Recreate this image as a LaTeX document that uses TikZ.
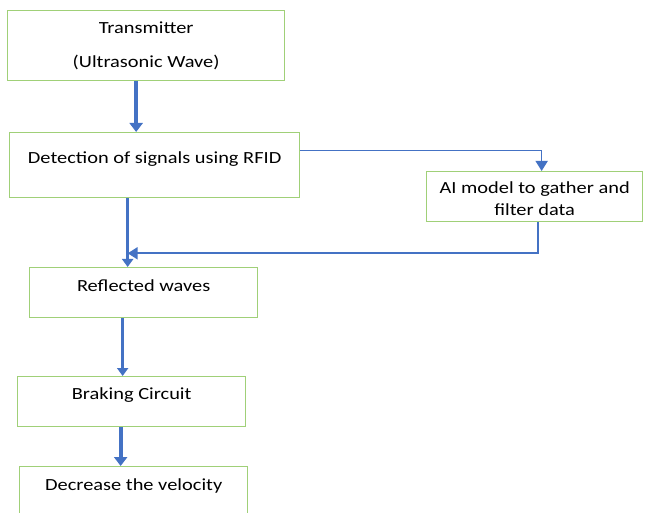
\documentclass[tikz,border=0pt]{standalone}
\usepackage{fontspec}
\setmainfont[FakeStretch=1.2]{Carlito}
\usetikzlibrary{arrows.meta}
\definecolor{boxgreen}{RGB}{160,208,120}
\definecolor{linkblue}{RGB}{68,114,196}
\tikzset{
  blk/.style={draw=boxgreen, line width=1.3pt, inner sep=0pt, anchor=north west,
    align=center, font=\fontsize{17}{20}\selectfont, text=black},
  fat/.style={draw=linkblue, line width=4pt, -{Triangle[width=13pt,length=9pt]}},
  mid/.style={draw=linkblue, line width=2.5pt, -{Triangle[width=11pt,length=8pt]}},
  thin/.style={draw=linkblue, line width=1.5pt, -{Triangle[width=12pt,length=10pt]}}
}
\begin{document}
\begin{tikzpicture}[x=1pt,y=-1pt]
			\useasboundingbox (0,0) rectangle (648,513);
			\clip (0,0) rectangle (648,513);
			\fill[white] (0,0) rectangle (648,513);
			\node[blk, minimum width=277pt, text height=57pt, text depth=13pt] (tx) at (7,10) {Transmitter\\[14pt](Ultrasonic Wave)};
			\node[blk, minimum width=290pt, text height=31pt, text depth=34pt] (rfid) at (9,132) {Detection of signals using RFID};
			\node[blk, minimum width=216pt, text height=44pt, text depth=6pt] (ai) at (426,171) {AI model to gather and\\[2pt]filter data};
			\node[blk, minimum width=228pt, text height=24pt, text depth=26pt] (refl) at (29,267) {Reflected waves};
			\node[blk, minimum width=228pt, text height=23pt, text depth=27pt] (brake) at (17,376) {Braking Circuit};
			\node[blk, minimum width=228pt, text height=24pt, text depth=36pt] (vel) at (19,466) {Decrease the velocity};
			\draw[fat] ([xshift=-10pt]tx.south) -- ([xshift=-10pt]tx.south |- rfid.north);
			\draw[thin] ([yshift=14.5pt]rfid.east) -| ([xshift=7pt]ai.north);
			\draw[mid] ([xshift=-27pt]rfid.south) -- ([xshift=-27pt]rfid.south |- refl.north);
			\draw[thin, line width=2pt] ([xshift=3pt]ai.south) |- ([xshift=-27pt,yshift=-55pt]rfid.south);
			\draw[mid] ([xshift=-21pt]refl.south) -- ([xshift=-21pt]refl.south |- brake.north);
			\draw[fat] ([xshift=-11pt]brake.south) -- ([xshift=-11pt]brake.south |- vel.north);
		\end{tikzpicture}
\end{document}
